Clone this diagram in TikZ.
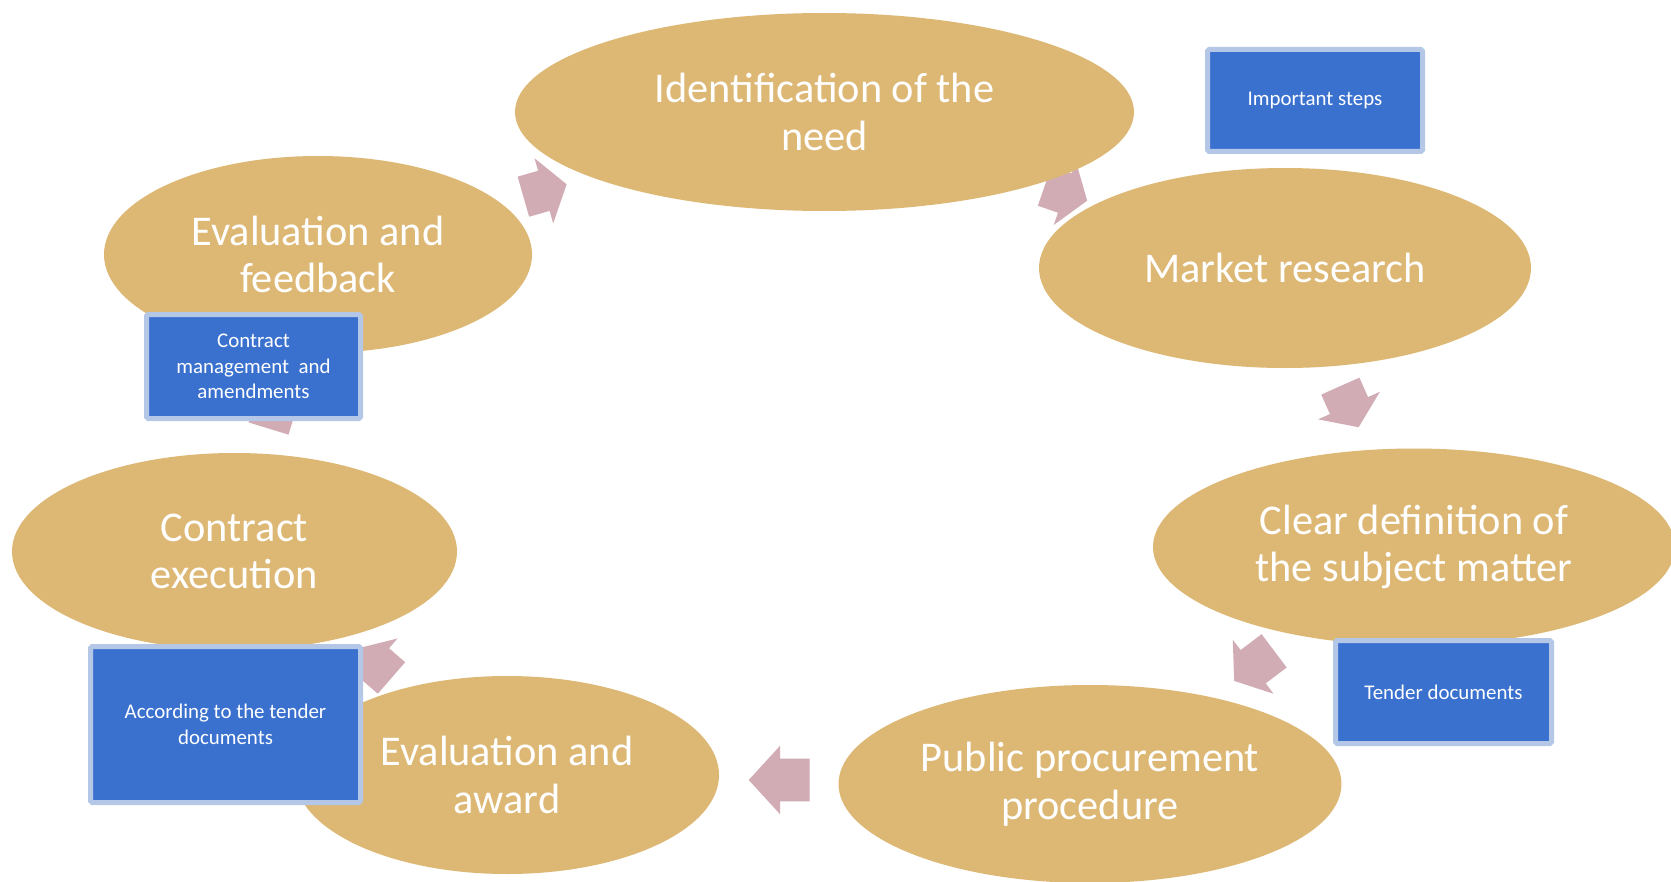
\documentclass[tikz,border=0pt]{standalone}
\usepackage{fontspec}
\setmainfont{Carlito}
\usepackage{xcolor}
\definecolor{PhaseTan}{HTML}{DDB874}
\definecolor{FlowPink}{HTML}{D1ACB5}
\definecolor{NoteBlue}{HTML}{3A71CF}
\definecolor{NoteRim}{HTML}{B4C7E7}
\usetikzlibrary{shapes.geometric, shapes.arrows}

\begin{document}
\begin{tikzpicture}[
  % === GRUNDSTILE ===
  % Ellipse für Phasen
  phase/.style={
    ellipse,
    fill=PhaseTan,
    inner sep=0pt,
    text=white,
    align=center,
    font=\fontsize{24.1}{27}\selectfont
  },
  % Blaue Hinweisbox
  note/.style={
    draw=NoteRim,
    line width=0.1cm,
    fill=NoteBlue,
    text=white,
    align=center,
    inner sep=0pt,
    rounded corners=1pt,
    font=\fontsize{11.9}{14.5}\selectfont
  },
  % Blockpfeile
  flow/.style={
    single arrow,
    fill=FlowPink,
    inner xsep=0pt,
    inner ysep=0.41cm,
    minimum height=0.9cm,
    single arrow head extend=0.26cm,
    single arrow tip angle=110
  }
]

% =============================================================================
% HINTERGRUND
% =============================================================================
\useasboundingbox (0,0) rectangle (33.42,-17.64);
\fill[white] (0,0) rectangle (33.42,-17.64);

% =============================================================================
% PFEILE (unter den Ellipsen)
% =============================================================================
\node[flow, rotate=16]  (f1) at (10.76,-3.85) {};
\node[flow, rotate=-19] (f2) at (21.18,-3.82) {};
\node[flow, rotate=-66] (f3) at (26.93,-8.00) {};
\node[flow, rotate=-143, minimum height=1.0cm] (f4) at (25.20,-13.23) {};
\node[flow, rotate=180, minimum height=1.22cm, inner ysep=0.42cm,
      single arrow tip angle=95] (f5) at (15.78,-15.60) {};
\node[flow, rotate=139] (f6) at (7.60,-13.36) {};
\node[flow, rotate=73]  (f7) at (5.46,-8.28) {};

% =============================================================================
% PHASEN
% =============================================================================
\node[phase, minimum width=12.38cm, minimum height=3.96cm] (need) at (16.49,-2.24)
      {Identification of the\\need};
\node[phase, minimum width=9.84cm, minimum height=4.0cm] (market) at (25.70,-5.36)
      {Market research};
\node[phase, minimum width=10.44cm, minimum height=3.94cm] (subject) at (28.28,-10.94)
      {Clear definition of\\the subject matter};
\node[phase, minimum width=10.06cm, minimum height=3.96cm] (procedure) at (21.80,-15.68)
      {Public procurement\\procedure};
\node[phase, minimum width=8.48cm, minimum height=3.96cm] (award) at (10.14,-15.50)
      {Evaluation and\\award};
\node[phase, minimum width=8.90cm, minimum height=3.94cm] (execution) at (4.69,-11.03)
      {Contract\\execution};
\node[phase, minimum width=8.56cm, minimum height=3.94cm] (feedback) at (6.36,-5.09)
      {Evaluation and\\feedback};

% =============================================================================
% HINWEISBOXEN
% =============================================================================
\node[note, minimum width=4.30cm, minimum height=2.04cm] (important) at (26.30,-2.01)
      {Important steps};
\node[note, minimum width=4.28cm, minimum height=2.08cm] (management) at (5.07,-7.33)
      {Contract\\management\ \ and\\amendments};
\node[note, minimum width=5.40cm, minimum height=3.12cm] (according) at (4.51,-14.49)
      {According to the tender\\documents};
\node[note, minimum width=4.32cm, minimum height=2.06cm] (tender) at (28.87,-13.84)
      {Tender documents};

\end{tikzpicture}
\end{document}
